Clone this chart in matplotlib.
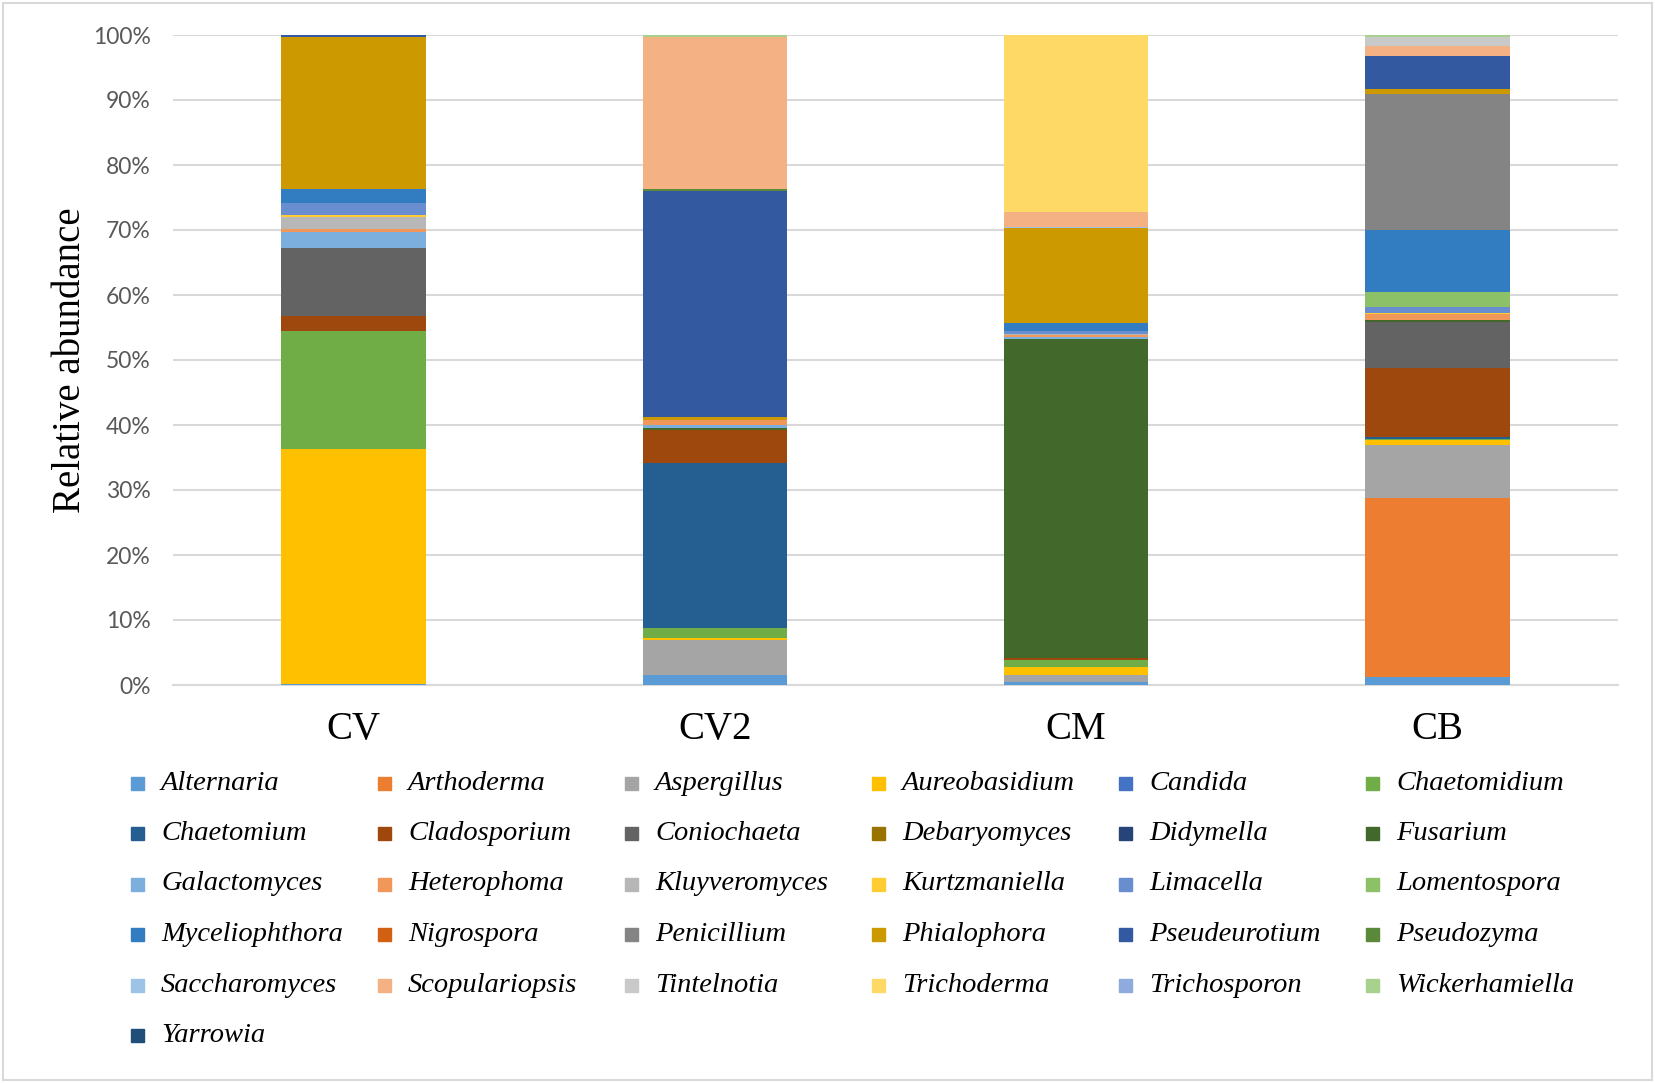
import numpy as np
import matplotlib.pyplot as plt
from matplotlib.patches import Rectangle

# samples and genera (legend order = stacking order, bottom -> top)
samples = ["CV", "CV2", "CM", "CB"]
genera = ["Alternaria", "Arthoderma", "Aspergillus", "Aureobasidium", "Candida",
          "Chaetomidium", "Chaetomium", "Cladosporium", "Coniochaeta", "Debaryomyces",
          "Didymella", "Fusarium", "Galactomyces", "Heterophoma", "Kluyveromyces",
          "Kurtzmaniella", "Limacella", "Lomentospora", "Myceliophthora", "Nigrospora",
          "Penicillium", "Phialophora", "Pseudeurotium", "Pseudozyma", "Saccharomyces",
          "Scopulariopsis", "Tintelnotia", "Trichoderma", "Trichosporon", "Wickerhamiella",
          "Yarrowia"]

# relative abundance (%), one value per genus
cv = [0.2, 0, 0, 36.1, 0, 18.1, 0, 2.3, 10.5, 0, 0, 0, 2.5, 0.5, 1.8, 0.3, 1.9, 0,
      2.1, 0, 0, 23.4, 0.3, 0, 0, 0, 0, 0, 0, 0, 0]
cv2 = [1.5, 0, 5.4, 0.4, 0, 1.4, 25.4, 5.1, 0, 0, 0, 0.4, 0.4, 0.8, 0, 0, 0, 0,
       0, 0, 0, 0.5, 34.7, 0.3, 0, 23.4, 0, 0, 0, 0.3, 0]
cm = [0.5, 0, 1.0, 1.2, 0, 1.2, 0, 0.3, 0, 0, 0, 49.0, 0.3, 0.3, 0.2, 0, 0.4, 0,
      1.3, 0, 0, 14.6, 0, 0, 0.2, 2.3, 0, 27.2, 0, 0, 0]
cb = [1.3, 27.4, 8.3, 0.7, 0, 0.2, 0.2, 10.6, 7.2, 0, 0, 0.3, 0, 0.8, 0, 0.2, 0.9, 2.3,
      9.6, 0, 21.0, 0.7, 5.0, 0, 0, 1.6, 1.4, 0, 0, 0.3, 0]

# excel office palette
colors = ["#5B9BD5", "#ED7D31", "#A5A5A5", "#FFC000", "#4472C4", "#70AD47",
          "#255E91", "#9E480E", "#636363", "#997300", "#264478", "#43682B",
          "#7CAFDD", "#F1975A", "#B7B7B7", "#FFCD33", "#698ED0", "#8CC168",
          "#327DC2", "#D26012", "#848484", "#CC9A00", "#335AA1", "#5A8A39",
          "#9DC3E6", "#F4B183", "#C9C9C9", "#FFD966", "#8FAADC", "#A9D18E",
          "#1F4E79"]

W, H = 1655, 1083
fig = plt.figure(figsize=(W / 100, H / 100), dpi=100)
ax = fig.add_axes([173 / W, 1 - 685 / H, 1445 / W, 650 / H])

data = np.array([cv, cv2, cm, cb]).T  # genera x samples
x = np.arange(len(samples))
bottom = np.zeros(len(samples))
for i, g in enumerate(genera):
    ax.bar(x, data[i], 0.4, bottom=bottom, color=colors[i], linewidth=0, zorder=3)
    bottom += data[i]

ax.set_xlim(-0.5, 3.5)
ax.set_ylim(0, 100)
ax.set_yticks(np.arange(0, 101, 10))
ax.set_yticklabels([f"{v}%" for v in range(0, 101, 10)],
                   fontsize=16.5, color="#595959", family="Lato")
ax.set_xticks(x)
ax.set_xticklabels(samples, fontsize=28, family="Liberation Serif")
ax.tick_params(axis="both", length=0)
ax.tick_params(axis="y", pad=16)
ax.tick_params(axis="x", pad=19)
ax.grid(axis="y", color="#D9D9D9", linewidth=1.5, zorder=0)
for s in ["top", "right", "left"]:
    ax.spines[s].set_visible(False)
ax.spines["bottom"].set_color("#D9D9D9")
ax.spines["bottom"].set_linewidth(1.5)

ax.set_ylabel("Relative abundance", fontsize=28, family="Liberation Serif")
ax.yaxis.set_label_coords(-0.058, 0.5)

# legend laid out like excel: 6 columns, row-major
for i, g in enumerate(genera):
    row, col = i // 6, i % 6
    px = 131 + col * 247
    py = 783 + row * 50.5
    fig.patches.append(Rectangle((px / W, 1 - (py + 6.5) / H), 13 / W, 13 / H,
                                 transform=fig.transFigure, color=colors[i]))
    fig.text((px + 30) / W, 1 - py / H, g, fontsize=20.5, style="italic",
             family="Liberation Serif", va="center", ha="left")

# chart area border
fig.patches.append(Rectangle((3 / W, 3 / H), (W - 6) / W, (H - 6) / H,
                             transform=fig.transFigure, fill=False,
                             edgecolor="#D9D9D9", linewidth=1.5))

fig.savefig("out.png", dpi=100)
